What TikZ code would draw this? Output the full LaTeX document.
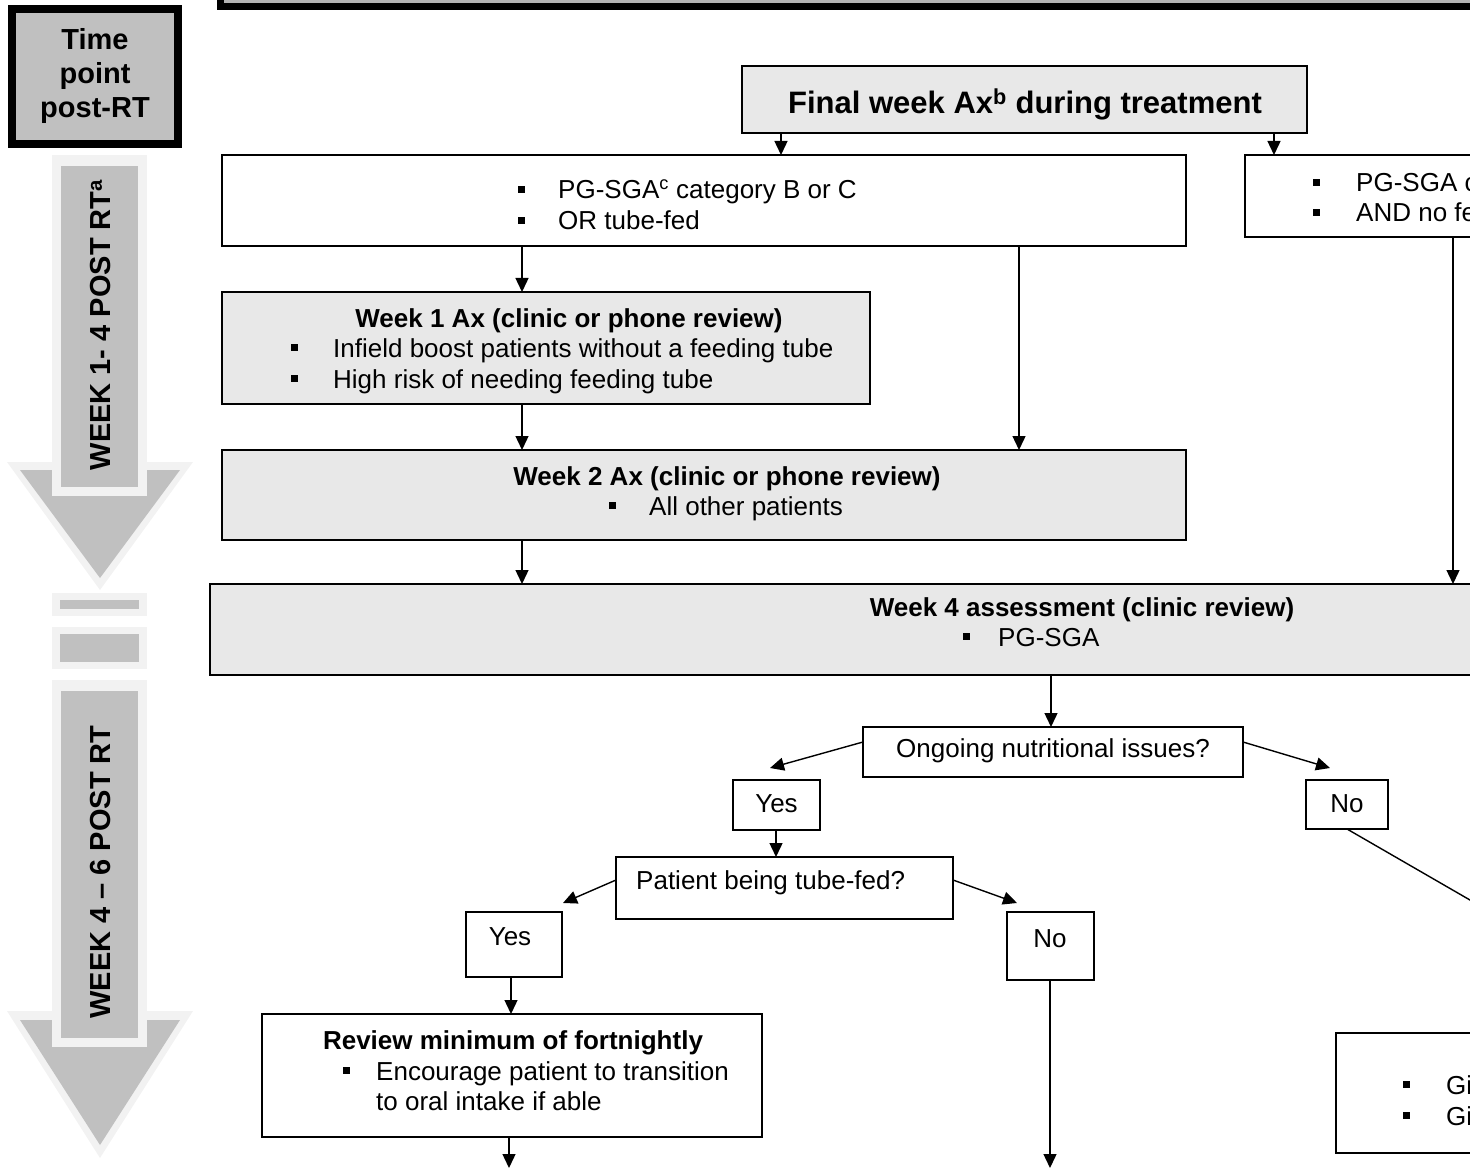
\documentclass[tikz,border=0pt]{standalone}
\usepackage{fontspec}
\setmainfont{Liberation Sans}
\usetikzlibrary{arrows.meta}
\definecolor{boxgray}{HTML}{E8E8E8}
\definecolor{midgray}{HTML}{C0C0C0}
\definecolor{palegray}{HTML}{F2F2F2}
\definecolor{bannergray}{HTML}{B4B4B4}
\newcommand{\bsq}{\rule[6pt]{7pt}{7pt}}
\begin{document}
\begin{tikzpicture}[x=1pt,y=-1pt,
  box/.style={draw=black,line width=1.8pt,inner sep=0pt,outer sep=0pt,anchor=north west},
  conn/.style={line width=1.4pt,-{Triangle[width=13pt,length=14pt]}},
  plainline/.style={line width=1.4pt},
  txt/.style={inner sep=0pt,font=\fontsize{26}{31}\selectfont},
  btxt/.style={inner sep=0pt,font=\fontsize{26}{31}\selectfont\bfseries},
  sidetxt/.style={inner sep=0pt,font=\fontsize{29}{34}\selectfont\bfseries},
]
\useasboundingbox (0,0) rectangle (1470,1174);
\clip (0,0) rectangle (1470,1174);

% top banner
\draw[fill=bannergray,line width=7pt] (220.5,-30) rectangle (1500,6.5);

% time point box
\node[draw=black,fill=midgray,line width=8pt,minimum width=166pt,minimum height=135pt,inner sep=0pt,outer sep=0pt,anchor=north west,
      align=center,sidetxt] (tp) at (12,9) {Time\\point\\post-RT};

% left arrow 1
\fill[palegray] (7,462) -- (193,462) -- (100,590) -- cycle;
\fill[midgray] (20,470) -- (180,470) -- (100,578) -- cycle;
\fill[palegray] (52,155) rectangle (147,496);
\fill[midgray] (61,166) rectangle (138,487);
\node[sidetxt,rotate=90] (w1) at (101,325) {WEEK 1- 4 POST RT\textsuperscript{a}};
% bars
\fill[palegray] (52,593) rectangle (147,616);
\fill[midgray] (60,600) rectangle (139,609);
\fill[palegray] (52,627) rectangle (147,669);
\fill[midgray] (60,634) rectangle (139,662);
% left arrow 2
\fill[palegray] (7,1011) -- (193,1011) -- (100,1158) -- cycle;
\fill[midgray] (20,1020) -- (180,1020) -- (100,1145) -- cycle;
\fill[palegray] (52,680) rectangle (147,1047);
\fill[midgray] (61,691) rectangle (138,1038);
\node[sidetxt,rotate=90] (w2) at (101,872) {WEEK 4 \textendash\ 6 POST RT};

% boxes
\node[box,fill=boxgray,minimum width=565pt,minimum height=67pt] (fin) at (742,66) {};
\node[inner sep=0pt,anchor=base,font=\fontsize{31}{36}\selectfont\bfseries] (fint) at (1025,114) {Final week Ax\textsuperscript{b} during treatment};

\node[box,fill=white,minimum width=964pt,minimum height=91pt] (A) at (222,155) {};
\node[txt,anchor=base west] (a1) at (518,199) {\makebox[40pt][l]{\bsq}PG-SGA\textsuperscript{c} category B or C};
\node[txt,anchor=base west] (a2) at (518,230) {\makebox[40pt][l]{\bsq}OR tube-fed};

\node[box,fill=white,minimum width=500pt,minimum height=82pt] (B) at (1245,155) {};
\node[txt,anchor=base west] (b1) at (1313,192) {\makebox[43pt][l]{\bsq}PG-SGA c};
\node[txt,anchor=base west] (b2) at (1313,222) {\makebox[43pt][l]{\bsq}AND no fe};

\node[box,fill=boxgray,minimum width=648pt,minimum height=112pt] (C) at (222,292) {};
\node[btxt,anchor=base] (ct) at (569,328) {Week 1 Ax (clinic or phone review)};
\node[txt,anchor=base west] (c1) at (291,357) {\makebox[42pt][l]{\bsq}Infield boost patients without a feeding tube};
\node[txt,anchor=base west] (c2) at (291,388) {\makebox[42pt][l]{\bsq}High risk of needing feeding tube};

\node[box,fill=boxgray,minimum width=964pt,minimum height=90pt] (D) at (222,450) {};
\node[btxt,anchor=base] (dt) at (727,485) {Week 2 Ax (clinic or phone review)};
\node[txt,anchor=base west] (d1) at (609,515) {\makebox[40pt][l]{\bsq}All other patients};

\node[box,fill=boxgray,minimum width=1700pt,minimum height=91pt] (E) at (210,584) {};
\node[btxt,anchor=base] (et) at (1082,616) {Week 4 assessment (clinic review)};
\node[txt,anchor=base west] (e1) at (963,646) {\makebox[35pt][l]{\bsq}PG-SGA};

\node[box,fill=white,minimum width=380pt,minimum height=50pt] (F) at (863,727) {};
\node[txt,anchor=base] (ft) at (1053,757) {Ongoing nutritional issues?};

\node[box,fill=white,minimum width=87pt,minimum height=50pt] (yes1) at (733,780) {};
\node[txt,anchor=base] (yes1t) at (776.5,812) {Yes};
\node[box,fill=white,minimum width=82pt,minimum height=49pt] (no1) at (1306,780) {};
\node[txt,anchor=base] (no1t) at (1347,812) {No};

\node[box,fill=white,minimum width=337pt,minimum height=62pt] (G) at (616,857) {};
\node[txt,anchor=base west] (gt) at (636,889) {Patient being tube-fed?};

\node[box,fill=white,minimum width=96pt,minimum height=65pt] (yes2) at (466,912) {};
\node[txt,anchor=base] (yes2t) at (510,945) {Yes};
\node[box,fill=white,minimum width=87pt,minimum height=68pt] (no2) at (1007,912) {};
\node[txt,anchor=base] (no2t) at (1050,947) {No};

\node[box,fill=white,minimum width=500pt,minimum height=123pt] (H) at (262,1014) {};
\node[btxt,anchor=base] (ht) at (513,1049) {Review minimum of fortnightly};
\node[txt,anchor=base west] (h1) at (343,1080) {\makebox[33pt][l]{\bsq}Encourage patient to transition};
\node[txt,anchor=base west] (h2) at (376,1110) {to oral intake if able};

\node[box,fill=white,minimum width=400pt,minimum height=120pt] (I) at (1336,1033) {};
\node[txt,anchor=base west] (i1) at (1403,1094) {\makebox[43pt][l]{\bsq}Gi};
\node[txt,anchor=base west] (i2) at (1403,1125) {\makebox[43pt][l]{\bsq}Gi};

% x positions
\coordinate (x781) at (781,0);
\coordinate (x1274) at (1274,0);
\coordinate (x522) at (522,0);
\coordinate (x1019) at (1019,0);
\coordinate (x1453) at (1453,0);
\coordinate (x1051) at (1051,0);
\coordinate (x776) at (776,0);
\coordinate (x511) at (511,0);
\coordinate (x1050) at (1050,0);
\coordinate (end1) at (509,1168);
\coordinate (end2) at (1050,1168);
\coordinate (yesin) at (770,768);
\coordinate (noin) at (1330,768);
\coordinate (yes2in) at (563,903);
\coordinate (no2in) at (1017,903);
\coordinate (offr) at (1560,952);

% connectors
\draw[conn] (fin.south -| x781) -- (A.north -| x781);
\draw[conn] (fin.south -| x1274) -- (B.north -| x1274);
\draw[conn] (A.south -| x522) -- (C.north -| x522);
\draw[conn] (A.south -| x1019) -- (D.north -| x1019);
\draw[conn] (C.south -| x522) -- (D.north -| x522);
\draw[conn] (D.south -| x522) -- (E.north -| x522);
\draw[conn] (B.south -| x1453) -- (E.north -| x1453);
\draw[conn] (E.south -| x1051) -- (F.north -| x1051);
\draw[conn] ([yshift=10pt]F.west) -- (yesin);
\draw[conn] ([yshift=10pt]F.east) -- (noin);
\draw[conn] (yes1.south -| x776) -- (G.north -| x776);
\draw[conn] ([yshift=8pt]G.west) -- (yes2in);
\draw[conn] ([yshift=8pt]G.east) -- (no2in);
\draw[plainline] (no1.south) -- (offr);
\draw[conn] (yes2.south -| x511) -- (H.north -| x511);
\draw[conn] (H.south -| end1) -- (end1);
\draw[conn] (no2.south -| x1050) -- (end2);
\end{tikzpicture}
\end{document}
